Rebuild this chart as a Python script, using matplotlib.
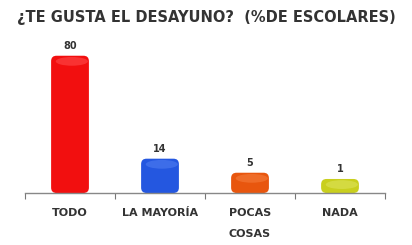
import matplotlib
matplotlib.use("Agg")
import matplotlib.pyplot as plt
from matplotlib.patches import FancyBboxPatch, Ellipse

categorias = ['TODO', 'LA MAYORÍA', 'POCAS\nCOSAS', 'NADA']
valores = [80, 14, 5, 1]
colores = ['#f20f0f', '#2457e0', '#e8560e', '#c9cf1e']
claros = ['#ff4a4a', '#4f7df0', '#f47b3a', '#dde35a']
titulo = '¿TE GUSTA EL DESAYUNO?  (%DE ESCOLARES)'

fig = plt.figure(figsize=(4.12, 2.45), dpi=100)
ax = fig.add_axes([0.0607, 0.2122, 0.8738, 0.6367])

x = range(len(valores))
barras = ax.bar(x, valores, width=0.42, color=colores)

# efecto 3D: caja redondeada con profundidad
prof = 8
asp = (1 / 1.56) / (1 / 90)
for b, c, cl, v in zip(barras, colores, claros, valores):
    b.set_visible(False)
    x0, w = b.get_x(), b.get_width()
    caja = FancyBboxPatch((x0, 0), w, v + prof,
                          boxstyle="round,pad=0,rounding_size=0.06",
                          mutation_aspect=asp, facecolor=c, edgecolor='none')
    ax.add_patch(caja)
    ax.add_patch(Ellipse((x0 + w / 2 + 0.02, v + prof * 0.55), w * 0.85, prof * 0.7,
                         facecolor=cl, edgecolor='none', alpha=0.6))
    ax.text(x0 + w / 2, v + prof + 3, str(v), ha='center', va='bottom',
            fontsize=7, fontweight='bold', color='#333333')

ax.set_xlim(-0.5, 3.5)
ax.set_ylim(0, 100)
ax.set_xticks([i + 0.5 for i in range(-1, 4)], minor=False)
ax.set_xticklabels([])
ax.set_xticks(list(x), minor=True)
ax.set_xticklabels(categorias, minor=True, fontsize=8, fontweight='bold',
                   color='#333333', linespacing=2.4, va='top')
ax.tick_params(axis='x', which='major', length=4, color='#777777', direction='out')
ax.tick_params(axis='x', which='minor', length=0, pad=11)
ax.set_yticks([])
for s in ['top', 'right', 'left']:
    ax.spines[s].set_visible(False)
ax.spines['bottom'].set_color('#888888')
ax.spines['bottom'].set_linewidth(1)

fig.text(0.5, 0.93, titulo, ha='center', va='center', fontsize=10.5,
         fontweight='bold', color='#333333')

fig.savefig('out.png', dpi=100)
